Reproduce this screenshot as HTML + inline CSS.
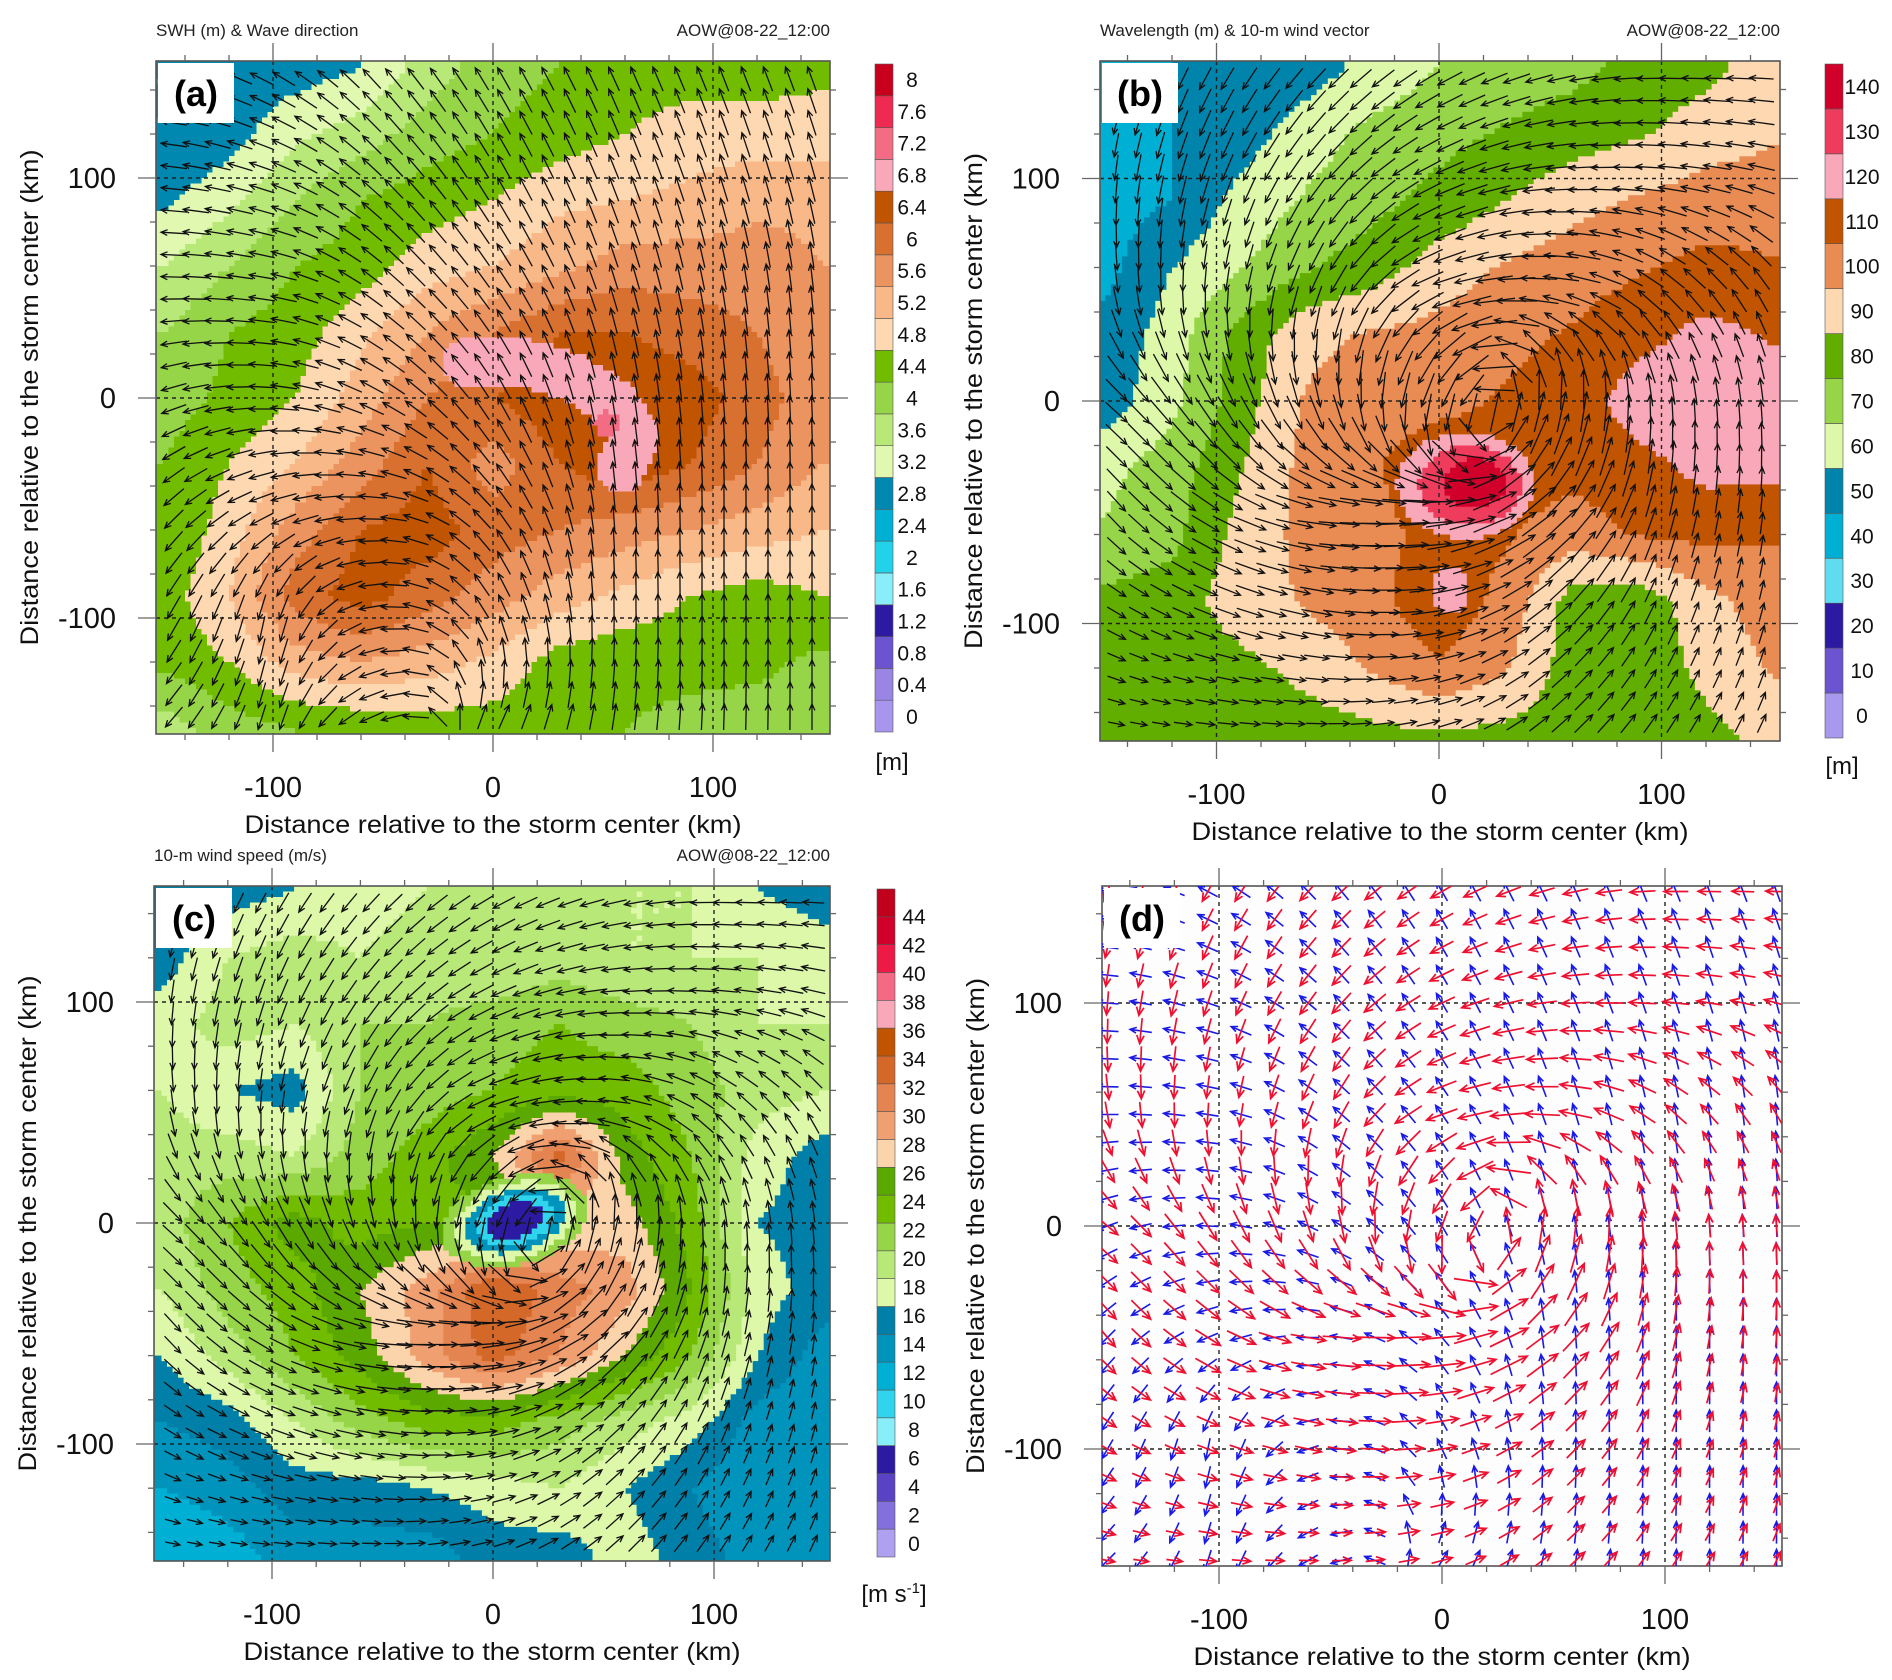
<!DOCTYPE html>
<html><head><meta charset="utf-8">
<style>
html,body{margin:0;padding:0;background:#fff;}
svg{display:block;font-family:"Liberation Sans",sans-serif;}
</style></head>
<body>
<svg id="fig" xmlns="http://www.w3.org/2000/svg" width="1892" height="1680" viewBox="0 0 1892 1680">
<rect x="0" y="0" width="1892" height="1680" fill="#fff"/>
</svg>
<script>
// ---------- data ----------
const gridKm = [-150,-120,-90,-60,-30,0,30,60,90,120,150];
// rows from y=150 (top) down to y=-150
const swhRows = [
[2.6,2.8,2.8,3.0,3.6,4.0,4.2,4.4,4.4,4.4,4.5],
[2.6,2.8,3.3,3.6,4.0,4.2,4.4,4.6,4.8,4.8,4.8],
[2.9,3.3,3.8,4.2,4.4,4.6,4.9,5.0,5.1,5.3,5.3],
[3.4,3.8,4.2,4.4,4.8,5.0,5.3,5.6,5.6,5.6,5.4],
[3.8,4.2,4.4,4.9,5.4,5.8,6.2,6.2,6.0,5.8,5.4],
[4.0,4.3,4.6,5.2,5.8,6.2,6.5,6.6,6.4,6.0,5.5],
[4.2,4.6,5.0,5.6,6.2,5.6,6.2,6.5,6.2,5.8,5.4],
[4.2,4.8,5.6,6.2,6.4,6.0,5.8,5.6,5.4,5.2,5.0],
[4.4,5.0,6.0,6.4,6.0,5.6,5.2,4.9,4.6,4.4,4.6],
[4.3,4.6,5.2,5.4,5.2,4.9,4.4,4.3,4.3,4.3,4.1],
[3.6,4.0,4.2,4.3,4.4,4.4,4.4,4.2,4.1,4.0,3.9]];
const swhPinkX = [-12,10,35,55,65,58];
const swhPinkY = [16,17,10,-2,-18,-32];
const swhPinkHalfWidth = 11;
const swhPeakX = [52]; const swhPeakY = [-12]; const swhPeakR = [6];

const wlRows = [
[42,45,48,50,58,65,70,72,78,82,90],
[40,45,50,60,68,72,76,80,84,90,94],
[40,45,58,66,72,78,85,92,96,100,100],
[42,55,64,74,80,90,96,100,104,108,106],
[48,60,78,92,96,98,102,106,112,118,114],
[50,62,80,96,100,102,106,110,120,120,120],
[62,70,84,98,104,112,110,108,112,118,118],
[66,72,88,98,102,108,106,100,106,108,106],
[78,80,90,96,102,112,102,80,78,92,100],
[80,80,82,88,96,104,96,80,78,88,96],
[75,76,78,80,82,84,82,80,78,82,88]];
const wlCoreX = [12,14,16,5];
const wlCoreY = [-38,-38,-37,-85];
const wlCoreRx = [31,23,14,8];
const wlCoreRy = [24,18,11,11];
const wlCoreVal = [120,130,140,120];

const wsRows = [
[15,16,17,18,19,19,19,19,19,17,16],
[16,19,20,19,20,19,20,19,19,19,18],
[18,20,19,21,21,22,23,22,21,19,19],
[19,17,16,21,22,23,24,24,22,20,19],
[20,20,19,22,24,27,34,26,23,18,16],
[20,23,26,24,25,24,27,28,24,17,16],
[19,22,24,27,30,35,32,30,25,18,16],
[17,20,23,26,30,34,31,27,23,17,14],
[15,16,19,22,24,24,22,20,18,14,13],
[13,14,16,16,17,18,19,17,15,13,13],
[11,12,14,14,14,16,16,18,16,14,14]];
const eyeX = 10, eyeY = 1;
const eyeRx = [34,28,23,18,13];
const eyeRy = [20,17,14,11,8];
const eyeVal = [22,18,13,9,6];

const dirKm = [-150,-100,-50,0,50,100,150];
const waveDirRows = [
[170,150,130,120,115,112,110],
[175,160,135,120,112,108,105],
[180,170,140,125,108,100,95],
[200,175,150,120,100,95,92],
[225,200,175,130,95,90,90],
[240,260,185,115,90,90,90],
[225,255,200,60,80,88,90]];
const windDirRows = [
[250,240,225,210,195,180,178],
[265,250,230,205,185,175,165],
[280,265,245,200,175,140,120],
[320,300,285,250,80,95,95],
[310,330,355,5,40,75,85],
[330,340,350,10,40,65,75],
[350,355,0,15,40,55,65]];

const swhLabels = ['0','0.4','0.8','1.2','1.6','2','2.4','2.8','3.2','3.6','4','4.4','4.8','5.2','5.6','6','6.4','6.8','7.2','7.6','8'];
const swhColors = ['#a896ee','#9a84e4','#6c54d0','#2c1aa2','#8aeefa','#22d2ea','#00b0d4','#0088b0','#e0f8b0','#b8e878','#96d448','#72bc00','#fdd8b0','#f8b888','#ec9460','#d87030','#c05400','#f8a8b8','#f46c84','#ee2a50','#c8001c'];
const wlLabels = ['0','10','20','30','40','50','60','70','80','90','100','110','120','130','140'];
const wlColors = ['#a898ee','#6c54d0','#2c1aa2','#60dcf0','#00b0d4','#0084ac','#dcf8a8','#96d448','#62ae00','#fdd8b0','#e88c54','#c05400','#f8a8b8','#f03c5c','#d0002a'];
const wsLabels = ['0','2','4','6','8','10','12','14','16','18','20','22','24','26','28','30','32','34','36','38','40','42','44'];
const wsColors = ['#b0a0f0','#8470dc','#5a42c4','#2c1aa2','#88eefa','#30d4ec','#00b0d4','#0094bc','#0080a8','#dcf8a8','#b8e878','#96d448','#72bc00','#5aa800','#fcd4ac','#f0a070','#e48450','#d46828','#c05400','#f8a8b8','#f46a84','#ec1a44','#d0002a','#c0001c'];

// ---------- helpers ----------
const NS = 'http://www.w3.org/2000/svg';
const svg = document.getElementById('fig');
function mk(tag, attrs, parent){ const e=document.createElementNS(NS,tag); for(const k in attrs) e.setAttribute(k,attrs[k]); (parent||svg).appendChild(e); return e; }
function clamp(v,a,b){return Math.max(a,Math.min(b,v));}
function bilin(rows, xs, xk, yk){
  const n=xs.length, st=xs[1]-xs[0], lo=xs[0], hi=xs[n-1];
  const fx=(clamp(xk,lo,hi)-lo)/st, fy=(hi-clamp(yk,lo,hi))/st;
  const i=Math.min(n-2,Math.floor(fx)), j=Math.min(n-2,Math.floor(fy));
  const tx=fx-i, ty=fy-j;
  return rows[j][i]*(1-tx)*(1-ty)+rows[j][i+1]*tx*(1-ty)+rows[j+1][i]*(1-tx)*ty+rows[j+1][i+1]*tx*ty;
}
function dirAt(rows,xk,yk){
  const c = rows.map(r=>r.map(a=>Math.cos(a*Math.PI/180)));
  const s = rows.map(r=>r.map(a=>Math.sin(a*Math.PI/180)));
  return Math.atan2(bilin(s,dirKm,xk,yk), bilin(c,dirKm,xk,yk));
}
function segDist(px,py,ax,ay,bx,by){
  const dx=bx-ax, dy=by-ay; let t=((px-ax)*dx+(py-ay)*dy)/(dx*dx+dy*dy); t=clamp(t,0,1);
  return Math.hypot(px-ax-t*dx, py-ay-t*dy);
}

const P = {
  a:{left:156,right:830,top:61,bottom:734,x0:493,y0:398,s:2.2},
  b:{left:1100,right:1780,top:61,bottom:741,x0:1439,y0:401,s:2.225},
  c:{left:154,right:830,top:886,bottom:1561,x0:493,y0:1223,s:2.21},
  d:{left:1102,right:1782,top:886,bottom:1566,x0:1442,y0:1226,s:2.23}
};

function fieldValue(key,x,y){
  if(key==='a'){
    let v=bilin(swhRows,gridKm,x,y);
    let dmin=1e9; for(let i=0;i<swhPinkX.length-1;i++) dmin=Math.min(dmin,segDist(x,y,swhPinkX[i],swhPinkY[i],swhPinkX[i+1],swhPinkY[i+1]));
    if(dmin<swhPinkHalfWidth) v=Math.max(v,6.8);
    for(let i=0;i<swhPeakX.length;i++) if(Math.hypot(x-swhPeakX[i],y-swhPeakY[i])<swhPeakR[i]) v=Math.max(v,7.2);
    return v;
  }
  if(key==='b'){
    let v=bilin(wlRows,gridKm,x,y);
    for(let i=0;i<wlCoreX.length;i++){const dx=(x-wlCoreX[i])/wlCoreRx[i], dy=(y-wlCoreY[i])/wlCoreRy[i]; if(dx*dx+dy*dy<1) v=Math.max(v,wlCoreVal[i]);}
    return v;
  }
  let v=bilin(wsRows,gridKm,x,y);
  const ang=-15*Math.PI/180, rx=(x-eyeX)*Math.cos(ang)-(y-eyeY)*Math.sin(ang), ry=(x-eyeX)*Math.sin(ang)+(y-eyeY)*Math.cos(ang);
  for(let i=0;i<eyeRx.length;i++){const dx=rx/eyeRx[i], dy=ry/eyeRy[i]; if(dx*dx+dy*dy<1) v=eyeVal[i];}
  return v;
}

function drawField(key,colors,step){
  const p=P[key];
  const g=mk('g',{'clip-path':'url(#clip-'+key+')'});
  
  
  const cs=2.5, n=Math.ceil(310/cs);
  for(let j=0;j<n;j++){
    const yk=155-(j+0.5)*cs;
    let runStart=0, runIdx=-1;
    for(let i=0;i<=n;i++){
      let idx=-2;
      if(i<n){ const xk=-155+(i+0.5)*cs; idx=clamp(Math.round(fieldValue(key,xk,yk)/step),0,colors.length-1); }
      if(idx!==runIdx){
        if(runIdx>=0){
          const x1=p.x0+(-155+runStart*cs)*p.s, x2=p.x0+(-155+i*cs)*p.s;
          const y1=p.y0-(155-j*cs)*p.s;
          const r=mk('rect',{x:x1.toFixed(1),y:y1.toFixed(1),width:(x2-x1+0.6).toFixed(1),height:(cs*p.s+0.6).toFixed(1),fill:colors[runIdx]},g);
          
          
        }
        runStart=i; runIdx=idx;
      }
    }
  }
}

function arrow(parent,cx,cy,ang,len,head,color,w,name){
  const dx=Math.cos(ang), dy=-Math.sin(ang);
  const x1=cx-dx*len/2, y1=cy-dy*len/2, x2=cx+dx*len/2, y2=cy+dy*len/2;
  const a1=ang+Math.PI-0.42, a2=ang+Math.PI+0.42;
  const d='M'+x1.toFixed(1)+' '+y1.toFixed(1)+'L'+x2.toFixed(1)+' '+y2.toFixed(1)+
    'M'+(x2+Math.cos(a1)*head).toFixed(1)+' '+(y2-Math.sin(a1)*head).toFixed(1)+'L'+x2.toFixed(1)+' '+y2.toFixed(1)+
    'L'+(x2+Math.cos(a2)*head).toFixed(1)+' '+(y2-Math.sin(a2)*head).toFixed(1);
  const e=mk('path',{d:d,stroke:color,'stroke-width':w,fill:'none'},parent);
  
  
}

function drawVectors(key,rows,lenFn,color,stepX,stepY,start,name,w,head){
  const p=P[key];
  const g=mk('g',{'clip-path':'url(#clip-'+key+')'});
  
  
  const ny=Math.floor(2*start/stepY+0.001), nx=Math.floor(2*start/stepX+0.001);
  for(let j=0;j<=ny;j++){
    const yk=start-j*stepY;
    for(let i=0;i<=nx;i++){
      const xk=-start+i*stepX;
      const ang=dirAt(rows,xk,yk);
      arrow(g,p.x0+xk*p.s,p.y0-yk*p.s,ang,lenFn(xk,yk),head,color,w,name);
    }
  }
}

function drawAxes(key,title){
  const p=P[key];
  const g=mk('g',{});
  
  
  [-100,0,100].forEach(v=>{
    const X=p.x0+v*p.s, Y=p.y0-v*p.s;
    const gl=mk('line',{x1:X,y1:p.top,x2:X,y2:p.bottom,stroke:'#222','stroke-width':1.4,'stroke-dasharray':'4 4'},g);
    
    
    const gl2=mk('line',{x1:p.left,y1:Y,x2:p.right,y2:Y,stroke:'#222','stroke-width':1.4,'stroke-dasharray':'4 4'},g);
    
    
  });
  const fr=mk('rect',{x:p.left,y:p.top,width:p.right-p.left,height:p.bottom-p.top,fill:'none',stroke:'#555','stroke-width':1.6},g);
  
  
  for(let v=-140; v<=140; v+=20){
    const major=(v%100===0), L=major?18:6;
    const X=p.x0+v*p.s, Y=p.y0-v*p.s;
    mk('line',{x1:X,y1:p.top,x2:X,y2:p.top-L,stroke:'#666','stroke-width':1.3},g);
    mk('line',{x1:X,y1:p.bottom,x2:X,y2:p.bottom+L,stroke:'#666','stroke-width':1.3},g);
    mk('line',{x1:p.left,y1:Y,x2:p.left-L,y2:Y,stroke:'#666','stroke-width':1.3},g);
    mk('line',{x1:p.right,y1:Y,x2:p.right+L,y2:Y,stroke:'#666','stroke-width':1.3},g);
    if(major){
      const t=mk('text',{x:X,y:p.bottom+63,'font-size':29,'text-anchor':'middle',fill:'#111'},g);
      t.textContent=String(v);
      
      
      const t2=mk('text',{x:p.left-40,y:Y+10,'font-size':29,'text-anchor':'end',fill:'#111'},g);
      t2.textContent=String(v);
      
      
    }
  }
  const cx=(p.left+p.right)/2, cy=(p.top+p.bottom)/2;
  const xt=mk('text',{x:cx,y:p.bottom+99,'font-size':25,'text-anchor':'middle',textLength:497,lengthAdjust:'spacingAndGlyphs',fill:'#111'},g);
  xt.textContent='Distance relative to the storm center (km)';
  
  
  const yx=p.left-118;
  const yt=mk('text',{x:yx,y:cy,'font-size':25,'text-anchor':'middle',textLength:496,lengthAdjust:'spacingAndGlyphs',transform:'rotate(-90 '+yx+' '+cy+')',fill:'#111'},g);
  yt.textContent='Distance relative to the storm center (km)';
  
  
  if(title){
    const tt=mk('text',{x:p.left,y:p.top-25,'font-size':17,fill:'#222'},g);
    tt.textContent=title;
    
    
    const tr=mk('text',{x:p.right,y:p.top-25,'font-size':17,'text-anchor':'end',fill:'#222'},g);
    tr.textContent='AOW@08-22_12:00';
    
    
  }
}

function drawColorbar(key,colors,labels,x,top,bottom,labFirst,labLast,unit,unitY){
  const g=mk('g',{});
  
  
  const n=colors.length, h=(bottom-top)/n;
  for(let i=0;i<n;i++){
    const r=mk('rect',{x:x,y:(bottom-(i+1)*h).toFixed(1),width:18,height:h.toFixed(1),fill:colors[i],stroke:'#555','stroke-width':0.6},g);
    
    
  }
  const sp=(labFirst-labLast)/(labels.length-1);
  labels.forEach((l,i)=>{
    const t=mk('text',{x:x+37,y:(labFirst-i*sp+7).toFixed(1),'font-size':21,'text-anchor':'middle',fill:'#111'},g);
    t.textContent=l;
    
    
  });
  const u=mk('text',{x:x+17,y:unitY,'font-size':24,'text-anchor':'middle',fill:'#111'},g);
  if(unit==='ms'){ u.textContent='[m s'; const sup=mk('tspan',{'font-size':15,dy:-9},u); sup.textContent='-1'; const t2=mk('tspan',{dy:9},u); t2.textContent=']'; }
  else u.textContent=unit;
  
  
}

const defs=mk('defs',{});
for(const k in P){ const cp=mk('clipPath',{id:'clip-'+k},defs); const p=P[k]; mk('rect',{x:p.left,y:p.top,width:p.right-p.left,height:p.bottom-p.top},cp); }

mk('rect',{x:P.d.left,y:P.d.top,width:P.d.right-P.d.left,height:P.d.bottom-P.d.top,fill:'#fdfdfd'});

drawField('a',swhColors,0.4);
drawField('b',wlColors,10);
drawField('c',wsColors,2);

const windLen=(s)=>(x,y)=>clamp(bilin(wsRows,gridKm,x,y)*s,14,60);
drawAxes('a','SWH (m) & Wave direction');
drawAxes('b','Wavelength (m) & 10-m wind vector');
drawAxes('c','10-m wind speed (m/s)');
drawAxes('d',null);

drawVectors('a',waveDirRows,()=>26,'#111',10,10,145,'wave-direction-arrow',1.3,7);
drawVectors('b',windDirRows,windLen(1.45),'#111',10,10,145,'wind-vector-arrow',1.3,7);
drawVectors('c',windDirRows,windLen(1.3),'#111',10,10,145,'wind-vector-arrow',1.3,7);
drawVectors('d',waveDirRows,()=>22,'#1a1ae6',15,12.5,150,'wave-direction-arrow-blue',1.6,7);
drawVectors('d',windDirRows,windLen(1.35),'#ee1030',15,12.5,150,'wind-arrow-red',1.7,9);

['a','b','c','d'].forEach(k=>{const p=P[k];
  const bx=mk('rect',{x:p.left+2,y:p.top+2,width:76,height:60,fill:'#fff'});
  
  
  const lt=mk('text',{x:p.left+40,y:p.top+45,'font-size':36,'font-weight':'bold','text-anchor':'middle',fill:'#000'});
  lt.textContent='('+k+')';
  
  
});

drawColorbar('a',swhColors,swhLabels,875,64,732,717,80,'[m]',770);
drawColorbar('b',wlColors,wlLabels,1825,64,738,716,87,'[m]',774);
drawColorbar('c',wsColors,wsLabels,877,889,1557,1544,917,'ms',1602);
</script>
</body></html>
